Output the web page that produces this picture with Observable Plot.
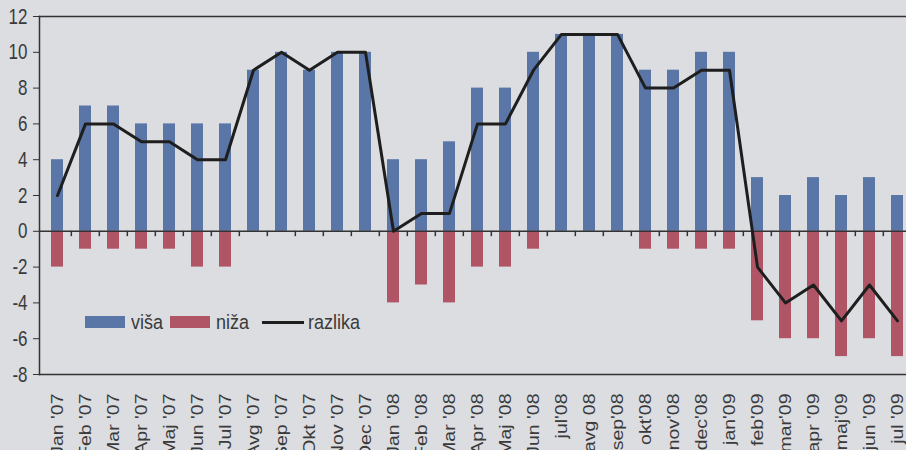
<!DOCTYPE html>
<html><head><meta charset="utf-8">
<script src="https://cdn.jsdelivr.net/npm/d3@7"></script>
<script src="https://cdn.jsdelivr.net/npm/@observablehq/plot@0.6"></script>
<style>
html,body{margin:0;padding:0;background:#dcdde0;}
#wrap{position:relative;width:906px;height:450px;overflow:hidden;background:#dcdde0;}
.lg{position:absolute;font-family:"Liberation Sans",Arial,sans-serif;font-size:18px;color:#3a3a3a;line-height:1;transform-origin:left top;transform:scaleY(1.15);}
.sw{position:absolute;height:12px;width:40px;}
.ln{position:absolute;height:3px;width:42px;background:#1e1e1e;}
.yax text{font-family:"Liberation Sans",Arial,sans-serif;font-size:17px;fill:#3a3a3a;}
.xax text{font-family:"Liberation Sans",Arial,sans-serif;font-size:16px;fill:#3a3a3a;}
</style></head><body><div id="wrap"></div>
<script>
const months = ["Jan '07","Feb '07","Mar '07","Apr '07","Maj '07","Jun '07","Jul '07","Avg '07","Sep '07","Okt '07","Nov '07","Dec '07",
  "Jan '08","Feb '08","Mar '08","Apr '08","Maj '08","Jun '08","jul'08","avg 08","sep'08","okt'08","nov'08","dec'08",
  "jan'09","feb'09","mar'09","apr '09","maj'09","jun '09","jul '09"];
const visa = [4,7,7,6,6,6,6,9,10,9,10,10, 4,4,5,8,8,10,11,11,11,9,9,10, 10,3,2,3,2,3,2];
const niza = [-2,-1,-1,-1,-1,-2,-2,0,0,0,0,0, -4,-3,-4,-2,-2,-1,0,0,0,-1,-1,-1, -1,-5,-6,-6,-7,-6,-7];
const razlika = [2,6,6,5,5,4,4,9,10,9,10,10, 0,1,1,6,6,9,11,11,11,8,8,9, 9,-2,-4,-3,-5,-3,-5];
const yTicks = [-8,-6,-4,-2,0,2,4,6,8,10,12];
const seriesNames = ["viša","niža","razlika"];
const colors = ["#5a76a7","#af5565","#1e1e1e"];

const data = months.map((m,i)=>({m, visa: visa[i], niza: niza[i], razlika: razlika[i]}));
const xRange = [37.5, 916];
const step = (xRange[1]-xRange[0]) / months.length;

const chart = Plot.plot({
  width: 906,
  height: 450,
  marginLeft: 39,
  marginRight: 0,
  marginTop: 16,
  marginBottom: 76,
  style: {background: "transparent", fontFamily: "'Liberation Sans', sans-serif", fontSize: "17px", color: "#3a3a3a", overflow: "visible"},
  x: {domain: months, range: xRange, paddingInner: 0.58, paddingOuter: 0.29, align: 0.5, label: null},
  y: {domain: [-8, 12], label: null},
  marks: [
    Plot.barY(data, {x: "m", y: "visa", fill: colors[0]}),
    Plot.barY(data, {x: "m", y: "niza", fill: colors[1]}),
    Plot.ruleY([0], {stroke: "#333", strokeWidth: 1.5}),
    Plot.ruleX(months.slice(1), {x: d => d, y1: 0, y2: -0.3, dx: -step/2, stroke: "#333", strokeWidth: 1.5}),
    Plot.line(data, {x: "m", y: "razlika", stroke: colors[2], strokeWidth: 3}),
    Plot.frame({anchor: "left", stroke: "#333", strokeWidth: 1.5}),
    Plot.frame({anchor: "top", stroke: "#333", strokeWidth: 1.5}),
    Plot.frame({anchor: "bottom", stroke: "#333", strokeWidth: 1.5}),
    Plot.axisY({ticks: yTicks, tickSize: 6, tickPadding: 6, tickFormat: d => String(d), stroke: "#333", className: "yax"}),
    Plot.axisX({tickSize: 0, tickPadding: 19, tickRotate: -90, className: "xax"})
  ]
});
// stretch the tick labels vertically, like the reference's tall, narrow type
chart.querySelectorAll(".yax text, .xax text").forEach(t => {
  const tr = t.getAttribute("transform") || "";
  if (/rotate/.test(tr)) t.setAttribute("transform", tr + " scale(1.22,1)");
  else t.setAttribute("transform", tr + " scale(1,1.3)");
});
const wrap = document.getElementById("wrap");
wrap.appendChild(chart);

// legend (HTML overlay)
const lg = [
  {type: "sw", x: 85, label: seriesNames[0], tx: 131, c: colors[0]},
  {type: "sw", x: 170, label: seriesNames[1], tx: 216, c: colors[1]},
  {type: "ln", x: 262, label: seriesNames[2], tx: 308, c: colors[2]}
];
for (const it of lg) {
  const s = document.createElement("div");
  s.className = it.type;
  s.style.left = it.x + "px";
  s.style.top = (it.type === "sw" ? 316 : 321) + "px";
  s.style.background = it.c;
  wrap.appendChild(s);
  const t = document.createElement("div");
  t.className = "lg";
  t.style.left = it.tx + "px";
  t.style.top = "312px";
  t.textContent = it.label;
  wrap.appendChild(t);
}
</script></body></html>
